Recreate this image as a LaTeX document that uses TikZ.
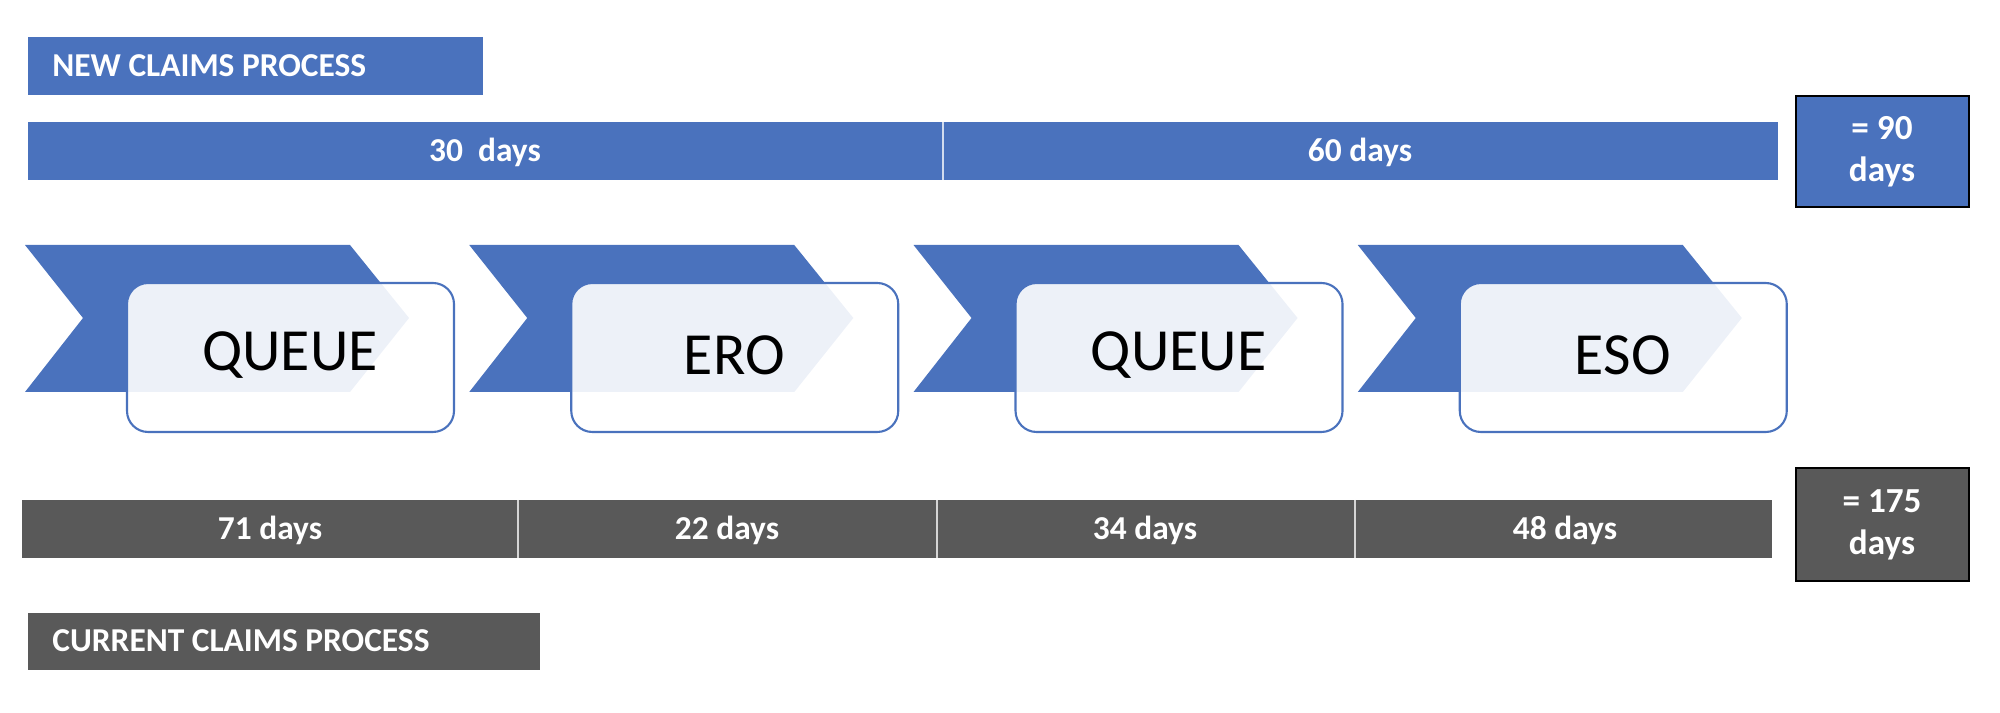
\documentclass[tikz,border=0pt]{standalone}
\usepackage{fontspec}
\setmainfont{Carlito}
\begin{document}
\begin{tikzpicture}[x=0.01cm,y=-0.01cm,
  lbl/.style={text=white,font=\bfseries\fontsize{9.5}{11}\selectfont},
  tot/.style={text=white,align=center,font=\bfseries\fontsize{10}{12}\selectfont},
  card/.style={draw=cblue,line width=0.6pt,fill=white,fill opacity=0.9,rounded corners=6pt},
  steplbl/.style={font=\fontsize{17}{20}\selectfont}]
\definecolor{cblue}{HTML}{4A72BD}
\definecolor{cgray}{HTML}{595959}
\useasboundingbox (0,0) rectangle (2000,713);
% headers
\fill[cblue] (28,37) rectangle (483,95);
\node[lbl,anchor=west] (hnew) at (40,66) {NEW CLAIMS PROCESS};
\fill[cgray] (28,613) rectangle (540,670);
\node[lbl,anchor=west] (hcur) at (40,641) {CURRENT CLAIMS PROCESS};
% top bar
\fill[cblue] (28,122) rectangle (1778,180);
\draw[white!75!cblue,line width=0.6pt] (943,122) -- (943,180);
\node[lbl] (t30) at (485,152) {30\ \ days};
\node[lbl] (t60) at (1360,152) {60 days};
\filldraw[fill=cblue,draw=black,line width=0.6pt] (1796,96) rectangle (1969,207);
\node[tot] (t90) at (1882,152) {= 90\\days};
% bottom bar
\fill[cgray] (22,500) rectangle (1772,558);
\foreach \x in {518,937,1355} \draw[white!75!cgray,line width=0.6pt] (\x,500) -- (\x,558);
\node[lbl] (b71) at (270,530) {71 days};
\node[lbl] (b22) at (727,530) {22 days};
\node[lbl] (b34) at (1145,530) {34 days};
\node[lbl] (b48) at (1565,530) {48 days};
\filldraw[fill=cgray,draw=black,line width=0.6pt] (1796,468) rectangle (1969,581);
\node[tot] (t175) at (1882,525) {= 175\\days};
% chevrons
\foreach \i/\t in {0/QUEUE,1/ERO,2/QUEUE,3/ESO}{
  \begin{scope}[xshift=\i*4.44cm]
  \fill[cblue] (25,245) -- (350,245) -- (409,318) -- (350,392) -- (25,392) -- (83,318) -- cycle;
  \draw[card] (127,283) rectangle (454,432);
  \node[steplbl] (s\i) at (290,355) {\t};
  \end{scope}
}
\end{tikzpicture}
\end{document}
